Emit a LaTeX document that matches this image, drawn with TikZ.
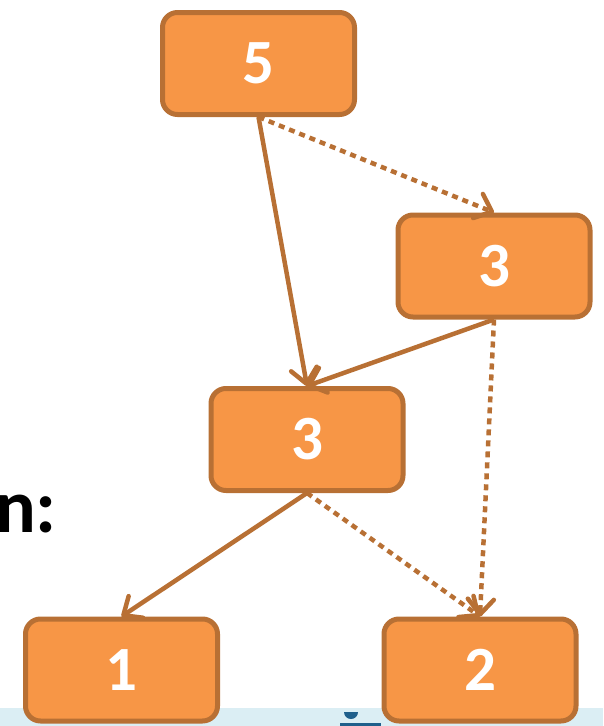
\documentclass[tikz,border=0pt]{standalone}
\usepackage{fontspec}
\setmainfont{Carlito}
\usetikzlibrary{arrows.meta}
\definecolor{boxfill}{RGB}{247,150,70}
\definecolor{boxline}{RGB}{184,112,52}
\definecolor{stripblue}{RGB}{219,238,244}
\definecolor{markblue}{RGB}{31,95,139}
\tikzset{
  treebox/.style={draw=boxline, fill=boxfill, line width=5pt, rounded corners=15pt,
    minimum width=192pt, minimum height=102pt, inner sep=0pt,
    text=white, font=\fontsize{63}{63}\selectfont\bfseries},
  link/.style={draw=boxline, line width=4.5pt,
    -{Straight Barb[length=15pt,width=26pt,line cap=round,line join=round]}},
  dotlink/.style={link, dash pattern=on 6pt off 5pt}
}
\begin{document}
\begin{tikzpicture}[x=1pt,y=-1pt]
  \useasboundingbox (0,0) rectangle (603,726);
  % footer strip with its small mark
  \fill[stripblue] (0,708) rectangle (603,726);
  \fill[markblue] (344,712) arc[start angle=180,end angle=360,radius=7pt] -- cycle;
  \fill[markblue] (340,723) rectangle (381,726);
  % heading fragment
  \node[anchor=base east, inner sep=0pt, font=\fontsize{76}{76}\selectfont\bfseries] (lbl) at (57,532) {n:};
  % tree nodes
  \node[treebox] (n5) at (258.5,63.5) {5};
  \node[treebox] (nr) at (494,266) {3};
  \node[treebox] (nm) at (307,439.5) {3};
  \node[treebox] (n1) at (121.5,670) {1};
  \node[treebox] (n2) at (480,670) {2};
  % links
  \draw[link] (n5.south) -- (nm.north);
  \draw[dotlink] (n5.south) -- (nr.north);
  \draw[link] (nr.south) -- (nm.north);
  \draw[link] (nm.south) -- (n1.north);
  \draw[dotlink] (nm.south) -- (n2.north);
  \draw[dotlink] (nr.south) -- (n2.north);
\end{tikzpicture}
\end{document}
